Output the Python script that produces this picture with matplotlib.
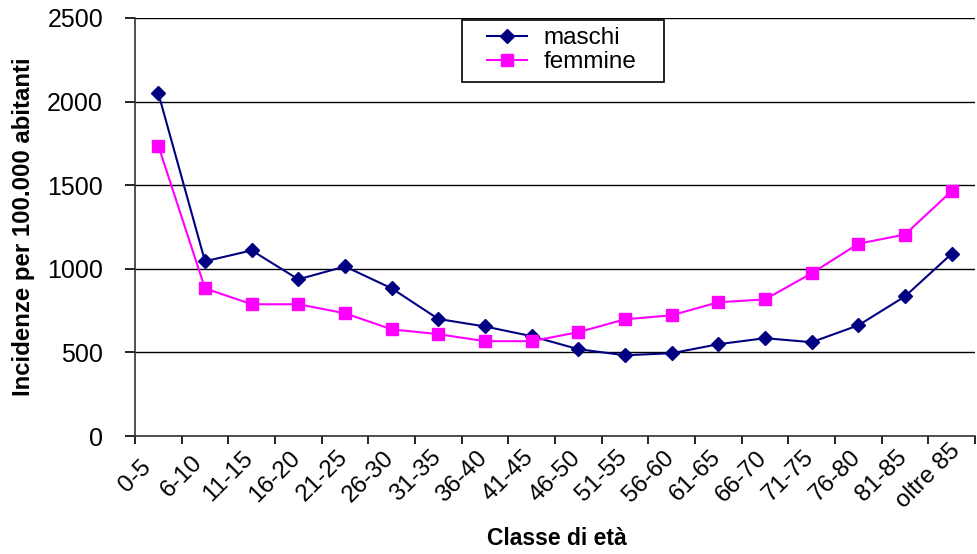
import matplotlib
matplotlib.use("Agg")
import matplotlib.pyplot as plt
import matplotlib.transforms as mtransforms
from matplotlib.patches import Rectangle
import numpy as np

categories = ["0-5", "6-10", "11-15", "16-20", "21-25", "26-30", "31-35", "36-40",
              "41-45", "46-50", "51-55", "56-60", "61-65", "66-70", "71-75", "76-80",
              "81-85", "oltre 85"]
maschi = [2050, 1045, 1110, 937, 1014, 883, 700, 655, 597, 519, 483, 495, 549, 585,
          561, 662, 835, 1090]
femmine = [1736, 883, 788, 788, 734, 638, 609, 567, 567, 621, 698, 722, 800, 817,
           973, 1150, 1205, 1465]
yticks = [0, 500, 1000, 1500, 2000, 2500]

plt.rcParams['font.family'] = ['Liberation Sans', 'DejaVu Sans']

W, H = 977, 554
fig = plt.figure(figsize=(W / 100, H / 100), dpi=100)
ax = fig.add_axes([135/W, 1-436/H, (975-135)/W, (436-18)/H])

x = np.arange(len(categories))
ax.plot(x, maschi, color='#000080', marker='D', markersize=7, linewidth=1.5, label='maschi')
ax.plot(x, femmine, color='#FF00FF', marker='s', markersize=8.5, linewidth=1.5, label='femmine')

ax.set_xlim(-0.5, len(categories) - 0.5)
ax.set_ylim(0, 2500)
ax.set_yticks(yticks)
ax.set_yticklabels([str(v) for v in yticks], fontsize=18)
ax.yaxis.grid(True, color='black', linewidth=1)
ax.set_axisbelow(True)

ax.set_xticks(x)
ax.set_xticklabels(categories, rotation=45, ha='center', va='center',
                   rotation_mode='default', fontsize=17.5)
ax.tick_params(axis='x', which='major', length=0, pad=29)
offset = mtransforms.ScaledTranslation(-23/100, 0, fig.dpi_scale_trans)
for lbl in ax.get_xticklabels():
    lbl.set_transform(lbl.get_transform() + offset)
ax.set_xticks(np.arange(len(categories) + 1) - 0.5, minor=True)
ax.tick_params(axis='x', which='minor', length=6, width=1.2, direction='out')
ax.tick_params(axis='y', length=7, width=1.2, direction='out', pad=16)

for s in ['top', 'right']:
    ax.spines[s].set_visible(False)
for s in ['left', 'bottom']:
    ax.spines[s].set_linewidth(1.2)
    ax.spines[s].set_color('#333333')

ax.set_xlabel('Classe di età', fontsize=16.5, fontweight='bold', va='top')
ax.xaxis.set_label_coords((557-135)/840, (436-527)/418)
ax.set_ylabel('Incidenze per 100.000 abitanti', fontsize=17.3, fontweight='bold')
ax.yaxis.set_label_coords((35-135)/840, 0.5)

leg = fig.legend(loc='upper left', bbox_to_anchor=(487/W, 1-27/H), fontsize=17.5,
                 frameon=False, handlelength=1.65, handletextpad=0.66,
                 borderpad=0, labelspacing=0.1, borderaxespad=0,
                 handles=ax.get_lines(), labels=['maschi', 'femmine'])
fig.add_artist(Rectangle((462/W, 1-82/H), (664-462)/W, (82-20)/H, transform=fig.transFigure,
                         facecolor='white', edgecolor='black', linewidth=1.2, zorder=2))
leg.set_zorder(3)

fig.savefig('out.png', dpi=100)
